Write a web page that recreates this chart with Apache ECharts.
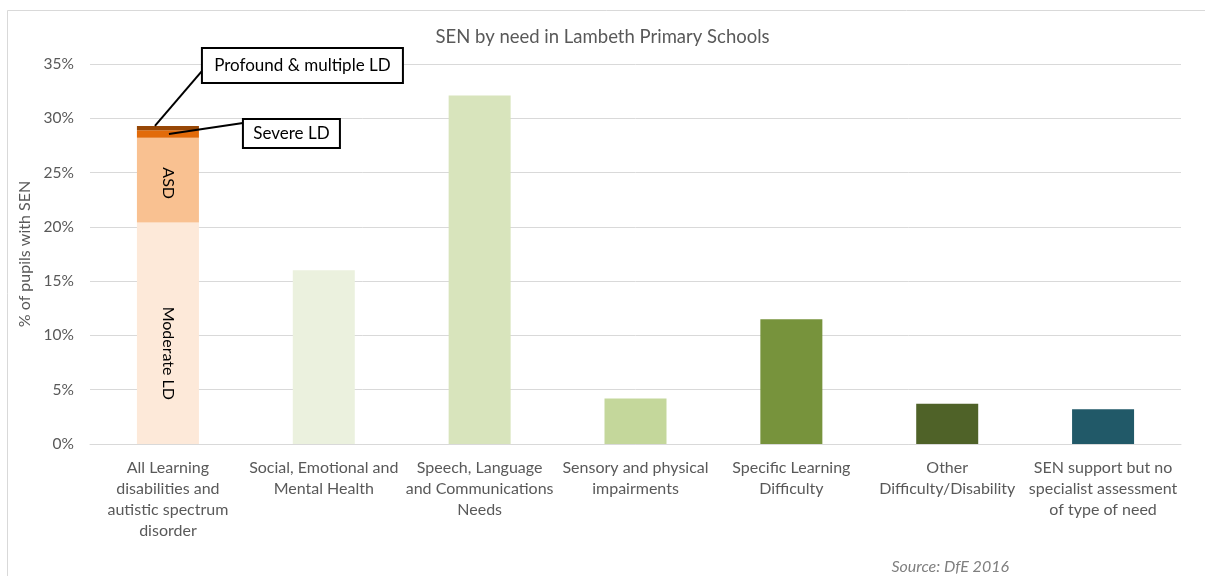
<!DOCTYPE html>
<html>
<head>
<meta charset="utf-8">
<script src="https://cdn.jsdelivr.net/npm/echarts@6/dist/echarts.min.js"></script>
<style>
  html, body { margin: 0; padding: 0; background: #ffffff; }
  #chart { width: 1205px; height: 576px; }
</style>
</head>
<body>
<div id="chart"></div>
<script>
// SEN primary-need categories (axis tick labels, wrapped as shown under each bar)
const categories = [
  'All Learning\ndisabilities and\nautistic spectrum\ndisorder',
  'Social, Emotional and\nMental Health',
  'Speech, Language\nand Communications\nNeeds',
  'Sensory and physical\nimpairments',
  'Specific Learning\nDifficulty',
  'Other\nDifficulty/Disability',
  'SEN support but no\nspecialist assessment\nof type of need'
];

// Breakdown of the first category (% of pupils with SEN)
const moderateLD = 20.4;
const asd = 7.8;
const severeLD = 0.7;
const profoundLD = 0.4;

// Remaining categories (% of pupils with SEN)
const otherNeeds = [16.0, 32.1, 4.2, 11.5, 3.7, 3.2];
const otherColors = ['#EBF1DE', '#D8E4BC', '#C4D79B', '#77933C', '#4F6228', '#215968'];

const yTicks = { min: 0, max: 35, interval: 5 };

const FONT = 'Lato';
const GREY = '#595959';

// Values placed on the first category only
function firstOnly(v) {
  return categories.map((_, i) => (i === 0 ? v : '-'));
}

// Rotated segment label; the offset runs along the rotated text direction (downwards)
const segLabel = (text, shiftDown) => ({
  show: true,
  position: 'inside',
  rotate: -90,
  offset: [shiftDown, 0],
  formatter: text,
  color: '#000000',
  fontFamily: FONT,
  fontSize: 16
});

const chart = echarts.init(document.getElementById('chart'), null, { renderer: 'canvas' });

const option = {
  backgroundColor: '#ffffff',
  animation: false,
  title: [
    {
      text: 'SEN by need in Lambeth Primary Schools',
      left: 'center',
      top: 23,
      textStyle: { color: GREY, fontFamily: FONT, fontSize: 18.5, fontWeight: 'normal' }
    },
    {
      text: 'Source: DfE 2016',
      right: 191,
      top: 554,
      textStyle: { color: '#7F7F7F', fontFamily: FONT, fontSize: 16, fontStyle: 'italic', fontWeight: 'normal' }
    }
  ],
  grid: { left: 90, right: 24, top: 64, bottom: 132 },
  xAxis: {
    type: 'category',
    data: categories,
    axisLine: { show: true, lineStyle: { color: '#D9D9D9', width: 1 } },
    axisTick: { show: false },
    axisLabel: {
      color: GREY,
      fontFamily: FONT,
      fontSize: 16,
      lineHeight: 21,
      margin: 13,
      interval: 0
    }
  },
  yAxis: {
    type: 'value',
    min: yTicks.min,
    max: yTicks.max,
    interval: yTicks.interval,
    name: '% of pupils with SEN',
    nameLocation: 'middle',
    nameGap: 53,
    nameRotate: 90,
    nameTextStyle: { color: GREY, fontFamily: FONT, fontSize: 16 },
    axisLine: { show: false },
    axisTick: { show: false },
    axisLabel: {
      color: GREY,
      fontFamily: FONT,
      fontSize: 15.5,
      margin: 16,
      formatter: '{value}%'
    },
    splitLine: { lineStyle: { color: '#D9D9D9', width: 1 } }
  },
  series: [
    {
      name: 'Moderate LD',
      type: 'bar',
      stack: 'need',
      barWidth: 62,
      data: firstOnly(moderateLD),
      itemStyle: { color: '#FDE9D9' },
      label: segLabel('Moderate LD', 20)
    },
    {
      name: 'ASD',
      type: 'bar',
      stack: 'need',
      barWidth: 62,
      data: firstOnly(asd),
      itemStyle: { color: '#F9C191' },
      label: segLabel('ASD', 3)
    },
    {
      name: 'Severe LD',
      type: 'bar',
      stack: 'need',
      barWidth: 62,
      data: firstOnly(severeLD),
      itemStyle: { color: '#E26B0A' }
    },
    {
      name: 'Profound & multiple LD',
      type: 'bar',
      stack: 'need',
      barWidth: 62,
      data: firstOnly(profoundLD),
      itemStyle: { color: '#974706' }
    },
    {
      name: 'Other needs',
      type: 'bar',
      stack: 'need',
      barWidth: 62,
      data: ['-'].concat(otherNeeds.map((v, i) => ({ value: v, itemStyle: { color: otherColors[i] } })))
    }
  ]
};

chart.setOption(option);

// Call-out boxes for the two thin segments, anchored to the stacked bar
const total = moderateLD + asd + severeLD + profoundLD;
const topPt = chart.convertToPixel({ xAxisIndex: 0, yAxisIndex: 0 }, [0, total]);
const severeMid = chart.convertToPixel({ xAxisIndex: 0, yAxisIndex: 0 }, [0, moderateLD + asd + severeLD / 2]);
const cx = topPt[0];

function callout(boxX, boxY, boxW, boxH, text, fromX, fromY, toX, toY) {
  return [
    {
      type: 'line',
      z: 100,
      shape: { x1: fromX, y1: fromY, x2: toX, y2: toY },
      style: { stroke: '#000000', lineWidth: 2 }
    },
    {
      type: 'rect',
      z: 101,
      shape: { x: boxX, y: boxY, width: boxW, height: boxH },
      style: { fill: '#ffffff', stroke: '#000000', lineWidth: 2 }
    },
    {
      type: 'text',
      z: 102,
      x: boxX + boxW / 2,
      y: boxY + boxH / 2,
      style: {
        text: text,
        fill: '#000000',
        font: '17px ' + FONT,
        align: 'center',
        verticalAlign: 'middle'
      }
    }
  ];
}

chart.setOption({
  graphic: [
    {
      type: 'rect',
      z: -10,
      silent: true,
      shape: { x: 7.5, y: 10.5, width: 1210, height: 600 },
      style: { fill: 'none', stroke: '#D9D9D9', lineWidth: 1 }
    }
  ]
    .concat(callout(cx + 34, topPt[1] - 78, 201, 35, 'Profound & multiple LD',
                    cx - 13, topPt[1], cx + 35, topPt[1] - 56))
    .concat(callout(cx + 75, severeMid[1] - 15, 97, 29, 'Severe LD',
                    cx + 1, severeMid[1], cx + 75, severeMid[1] - 11))
});
</script>
</body>
</html>
